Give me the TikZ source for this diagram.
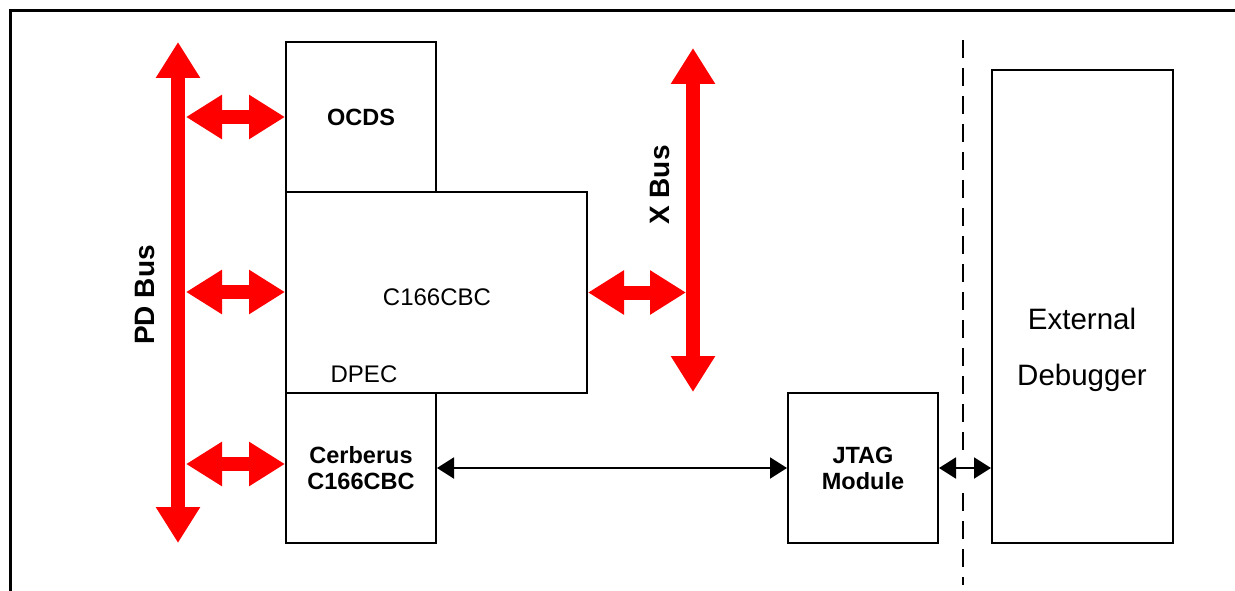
\documentclass[tikz,border=0pt]{standalone}
\usepackage{fontspec}
\setmainfont{Liberation Sans}
\usetikzlibrary{arrows.meta,calc}
\begin{document}
\begin{tikzpicture}[x=1pt,y=-1pt,
  box/.style={draw,line width=2pt,rectangle,inner sep=0pt},
  boxlbl/.style={font=\fontsize{23.5}{26}\selectfont\bfseries,align=center},
  txt/.style={font=\fontsize{24}{26}\selectfont},
  buslbl/.style={font=\fontsize{28}{30}\selectfont\bfseries,rotate=90},
  bus/.style={draw=red,line width=14pt,{Triangle[length=36pt,width=42pt]}-{Triangle[length=36pt,width=42pt]}},
  link/.style={draw=black,line width=2pt,{Triangle[length=17pt,width=21pt]}-{Triangle[length=17pt,width=21pt]}},
  frameline/.style={line width=3pt},
  sep/.style={line width=2pt,dash pattern=on 18pt off 10pt}
]
\useasboundingbox (0,0) rectangle (1235,591);
% frame
\draw[frameline] (1240,11) -- (10,11) -- (10,600);
% boxes
\node[box,minimum width=150pt,minimum height=150pt,boxlbl] (ocds) at (361,117) {OCDS};
\node[box,minimum width=301pt,minimum height=201pt] (cpu) at (436.5,292.5) {};
\node[box,minimum width=150pt,minimum height=150pt,boxlbl] (cerb) at (361,468) {Cerberus\\C166CBC};
\node[box,minimum width=150pt,minimum height=150pt,boxlbl] (jtag) at (863,468) {JTAG\\Module};
\node[box,minimum width=181pt,minimum height=473pt] (ext) at (1082.5,306.5) {};
% labels
\node[txt] (cpulbl) at (437,297) {C166CBC};
\node[txt] (dpec) at (364,374) {DPEC};
\node[font=\fontsize{29.5}{56}\selectfont,align=center] (extlbl) at (1082,350) {External\\Debugger};
\node[buslbl] (pdlbl) at (145,295) {PD Bus};
\node[buslbl] (xlbl) at (660,185) {X Bus};
% buses
\coordinate (pdtop) at (178,42);
\coordinate (pdbot) at (178,543);
\coordinate (pdR) at (186,0);
\coordinate (xtop) at (693,48);
\coordinate (xbot) at (693,392);
\coordinate (xL) at (686,0);
\coordinate (cw) at ($(cpu.west)+(0,-0.5)$);
\coordinate (bw) at ($(cerb.west)+(0,-4)$);
\path[bus] (pdtop) -- (pdbot);
\path[bus] (xtop) -- (xbot);
\path[bus] (ocds.west -| pdR) -- (ocds.west);
\path[bus] (cw -| pdR) -- (cw);
\path[bus] (bw -| pdR) -- (bw);
\path[bus] (cpu.east) -- (cpu.east -| xL);
% links
\path[link] (cerb.east) -- (jtag.west);
\path[link] (jtag.east) -- (ext.west |- jtag.east);
% separator
\coordinate (s1) at (963,40);
\coordinate (s2) at (963,450);
\coordinate (s3) at (963,493);
\coordinate (s4) at (963,585);
\draw[sep] (s1) -- (s2);
\draw[sep] (s3) -- (s4);
\end{tikzpicture}
\end{document}
